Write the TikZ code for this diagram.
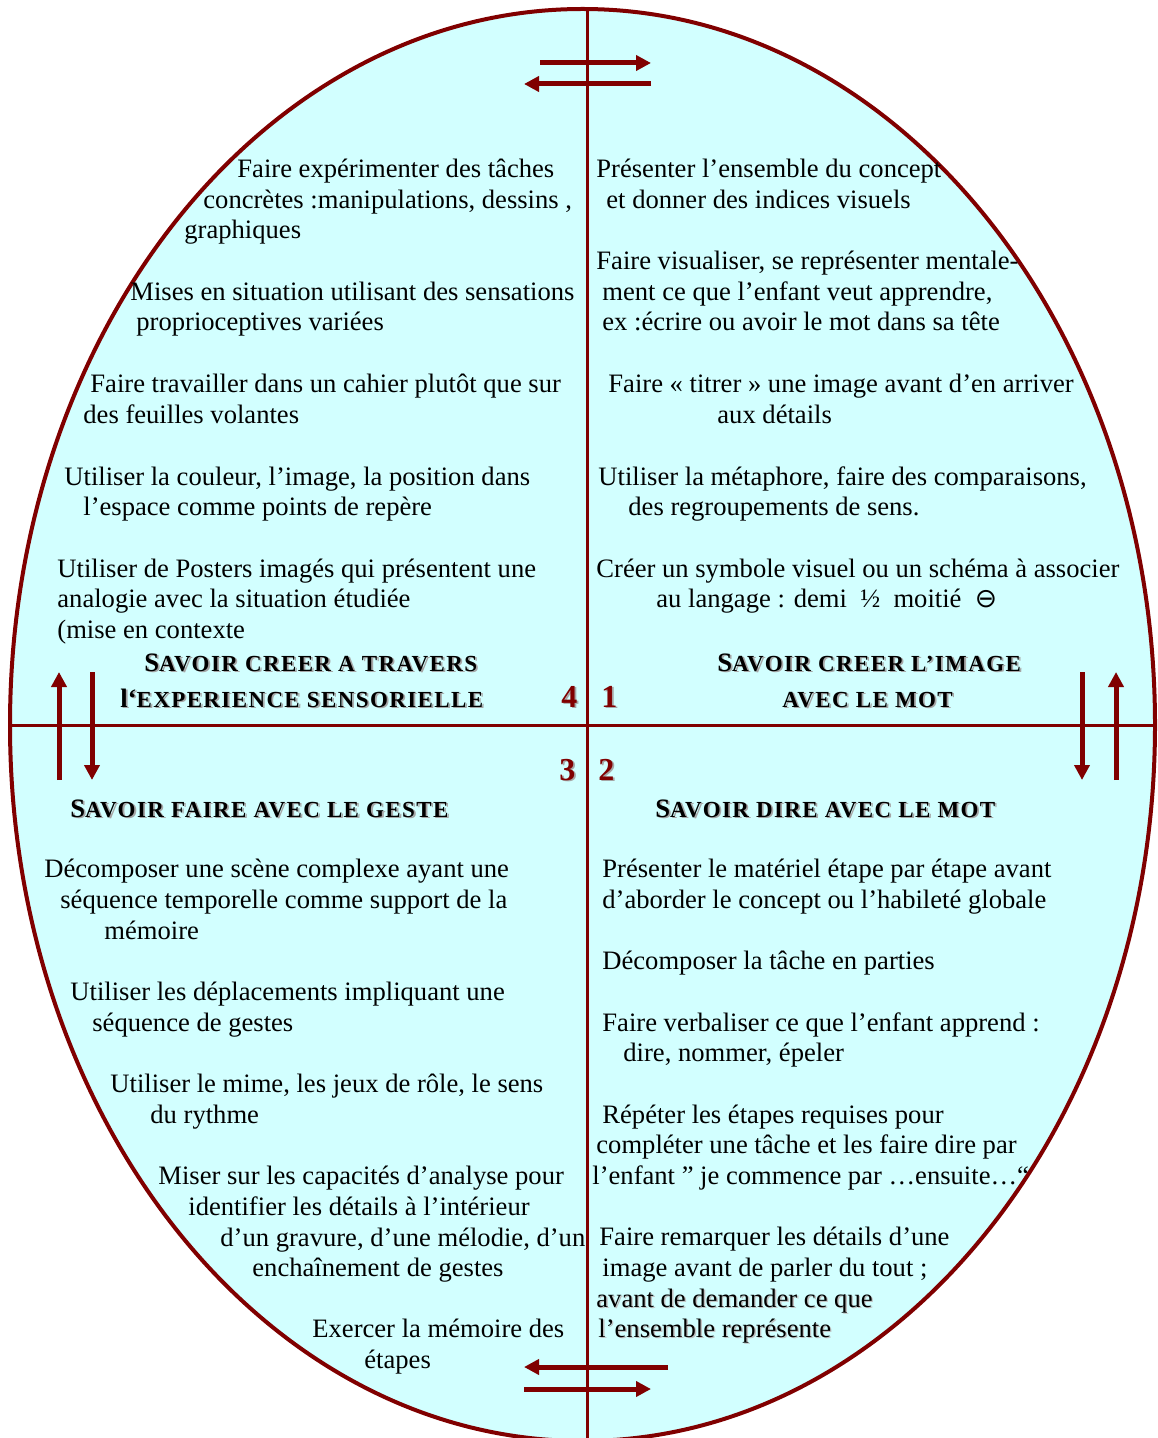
\documentclass[tikz,border=0pt]{standalone}
\usepackage{fontspec}
\setmainfont{Liberation Serif}
\newfontfamily\symfont{DejaVu Sans}
\newfontfamily\hscfont{Liberation Serif}[LetterSpace=6]
\usetikzlibrary{arrows.meta}
\definecolor{dred}{RGB}{128,0,0}
\definecolor{lcyan}{RGB}{210,255,255}
\newcommand{\shd}[1]{\leavevmode\rlap{\kern0.9pt\raisebox{-0.9pt}{\color{black!35}#1}}#1}
\newcommand{\lshd}[1]{\leavevmode\rlap{\kern0.7pt\raisebox{-0.7pt}{\color{black!25}#1}}#1}
\newcommand{\hsc}[1]{{\hscfont\bfseries\fontsize{11.5}{13}\selectfont #1}}
\tikzset{
  body/.style={anchor=base west, inner sep=0pt, font=\fontsize{13.3}{16}\selectfont},
  head/.style={anchor=base west, inner sep=0pt, font=\fontsize{13.3}{16}\selectfont\bfseries},
  num/.style={anchor=base west, inner sep=0pt, font=\fontsize{16}{18}\selectfont\bfseries, text=dred},
  arr/.style={draw=dred, line width=2.5pt, -{Triangle[length=7.5pt,width=7.5pt]}},
  axis/.style={draw=dred, line width=1.5pt}
}
\begin{document}
\begin{tikzpicture}[x=0.5pt,y=-0.5pt]
\useasboundingbox (0,0) rectangle (1157,1438);
\clip (0,0) rectangle (1157,1438);
\fill[lcyan] (582.5,725) ellipse [x radius=572.5, y radius=716];
\coordinate (vt) at (587,9);
\coordinate (vb) at (587,1441);
\coordinate (hl) at (10,725);
\coordinate (hr) at (1155,725);
\draw[axis] (vt) -- (vb);
\draw[axis] (hl) -- (hr);
\draw[dred, line width=2pt] (582.5,725) ellipse [x radius=572.5, y radius=716];
% arrows
\coordinate (ta1) at (540,63);  \coordinate (ta2) at (651,63);
\coordinate (tb1) at (651,84);  \coordinate (tb2) at (524,84);
\coordinate (ba1) at (668,1367); \coordinate (ba2) at (524,1367);
\coordinate (bb1) at (524,1389); \coordinate (bb2) at (651,1389);
\coordinate (la1) at (59,780);  \coordinate (la2) at (59,672);
\coordinate (lb1) at (92,672);  \coordinate (lb2) at (92,780);
\coordinate (ra1) at (1082,672); \coordinate (ra2) at (1082,780);
\coordinate (rb1) at (1116,780); \coordinate (rb2) at (1116,672);
\draw[arr] (ta1) -- (ta2);
\draw[arr] (tb1) -- (tb2);
\draw[arr] (ba1) -- (ba2);
\draw[arr] (bb1) -- (bb2);
\draw[arr] (la1) -- (la2);
\draw[arr] (lb1) -- (lb2);
\draw[arr] (ra1) -- (ra2);
\draw[arr] (rb1) -- (rb2);
% quadrant 4
\node[body] (a1) at (237,178) {Faire expérimenter des tâches};
\node[body] (a2) at (203,209) {concrètes :manipulations, dessins ,};
\node[body] (a3) at (184,239) {graphiques};
\node[body] (a4) at (130,301) {Mises en situation utilisant des sensations};
\node[body] (a5) at (136,331) {proprioceptives variées};
\node[body] (a6) at (90,393) {Faire travailler dans un cahier plutôt que sur};
\node[body] (a7) at (83,423) {des feuilles volantes};
\node[body] (a8) at (64,485) {Utiliser la couleur, l’image, la position dans};
\node[body] (a9) at (83,515) {l’espace comme points de repère};
\node[body] (a10) at (57,577) {Utiliser de Posters imagés qui présentent une};
\node[body] (a11) at (57,607) {analogie avec la situation étudiée};
\node[body] (a12) at (57,638) {(mise en contexte};
\node[head] (h4a) at (144,671) {\shd{S\hsc{AVOIR CREER A TRAVERS}}};
\node[head] (h4b) at (120,707) {\shd{l‘\hsc{EXPERIENCE SENSORIELLE}}};
\node[num] (n4) at (561,707) {\shd{4}};
% quadrant 1
\node[body] (b1) at (596,178) {Présenter l’ensemble du concept};
\node[body] (b2) at (606,209) {et donner des indices visuels};
\node[body] (b3) at (596,270) {Faire visualiser, se représenter mentale-};
\node[body] (b4) at (602,301) {ment ce que l’enfant veut apprendre,};
\node[body] (b5) at (602,331) {ex :écrire ou avoir le mot dans sa tête};
\node[body] (b6) at (608,393) {Faire « titrer » une image avant d’en arriver};
\node[body] (b7) at (717,423) {aux détails};
\node[body] (b8) at (598,485) {Utiliser la métaphore, faire des comparaisons,};
\node[body] (b9) at (628,515) {des regroupements de sens.};
\node[body] (b10) at (596,577) {Créer un symbole visuel ou un schéma à associer};
\node[body] (b11) at (656,607) {au langage : demi~~½~~moitié~~{\symfont ⊖}};
\node[head] (h1a) at (717,671) {\shd{S\hsc{AVOIR CREER L’IMAGE}}};
\node[head] (h1b) at (782,707) {\shd{\hsc{AVEC LE MOT}}};
\node[num] (n1) at (601,707) {\shd{1}};
% quadrant 3
\node[num] (n3) at (559,780) {\shd{3}};
\node[head] (h3) at (70,817) {\shd{S\hsc{AVOIR FAIRE AVEC LE GESTE}}};
\node[body] (c1) at (44,877) {Décomposer une scène complexe ayant une};
\node[body] (c2) at (60,908) {séquence temporelle comme support de la};
\node[body] (c3) at (104,939) {mémoire};
\node[body] (c4) at (70,1000) {Utiliser les déplacements impliquant une};
\node[body] (c5) at (92,1031) {séquence de gestes};
\node[body] (c6) at (110,1092) {Utiliser le mime, les jeux de rôle, le sens};
\node[body] (c7) at (150,1123) {du rythme};
\node[body] (c8) at (158,1184) {Miser sur les capacités d’analyse pour};
\node[body] (c9) at (188,1215) {identifier les détails à l’intérieur};
\node[body] (c10) at (220,1246) {d’un gravure, d’une mélodie, d’un};
\node[body] (c11) at (252,1276) {enchaînement de gestes};
\node[body] (c12) at (312,1337) {Exercer la mémoire des};
\node[body] (c13) at (364,1368) {étapes};
% quadrant 2
\node[num] (n2) at (598,780) {\shd{2}};
\node[head] (h2) at (655,817) {\shd{S\hsc{AVOIR DIRE AVEC LE MOT}}};
\node[body] (d1) at (602,877) {Présenter le matériel étape par étape avant};
\node[body] (d2) at (602,908) {d’aborder le concept ou l’habileté globale};
\node[body] (d3) at (602,969) {Décomposer la tâche en parties};
\node[body] (d4) at (602,1031) {Faire verbaliser ce que l’enfant apprend :};
\node[body] (d5) at (623,1061) {dire, nommer, épeler};
\node[body] (d6) at (602,1123) {Répéter les étapes requises pour};
\node[body] (d7) at (596,1153) {compléter une tâche et les faire dire par};
\node[body] (d8) at (592,1184) {l’enfant ” je commence par …ensuite…“};
\node[body] (d9) at (599,1245) {Faire remarquer les détails d’une};
\node[body] (d10) at (602,1276) {image avant de parler du tout ;};
\node[body] (d11) at (596,1307) {\lshd{avant de demander ce que}};
\node[body] (d12) at (598,1337) {\lshd{l’ensemble représente}};
\end{tikzpicture}
\end{document}
